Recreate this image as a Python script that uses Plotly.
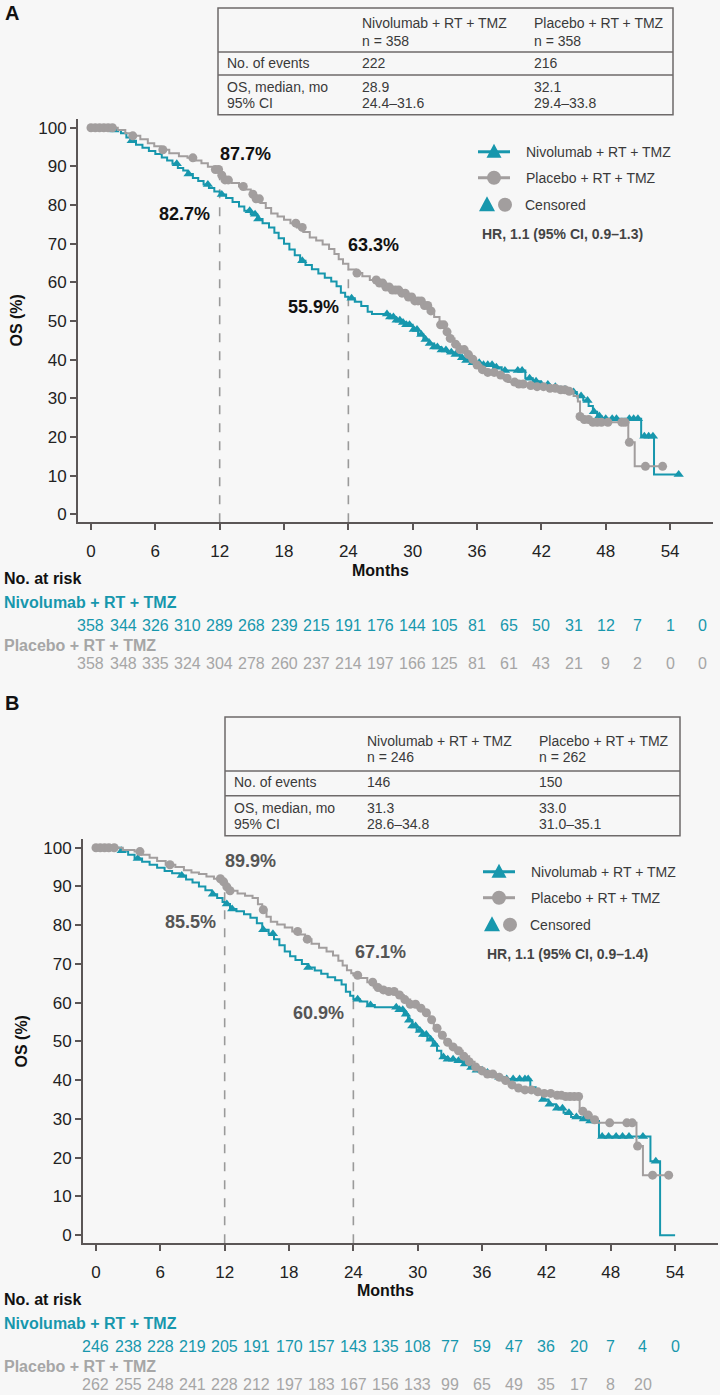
import numpy as np
import plotly.graph_objects as go

W, H = 720, 1395
BG = "#f7f7f7"
TEAL = "#1797ad"
GRAY = "#a29e9e"
GRAY_TXT = "#a6a6a6"
AXIS = "#5b5656"
FONT = "Liberation Sans, Arial, Helvetica, sans-serif"

# ---------------- data ----------------
month_ticks = [0, 6, 12, 18, 24, 30, 36, 42, 48, 54]
os_ticks = [0, 10, 20, 30, 40, 50, 60, 70, 80, 90, 100]
arms = ["Nivolumab + RT + TMZ", "Placebo + RT + TMZ"]

# Panel A: step times (months) and OS (%)
a_nivo_t = [0, 2.0, 2.8, 3.3, 3.7, 4.2, 4.8, 5.4, 6.0, 6.6, 7.1, 7.6, 8.1, 8.6, 9.0, 9.5, 10.0, 10.5,
            11.0, 11.5, 12.0, 12.6, 13.2, 13.8, 14.3, 14.9, 15.5, 16.0, 16.6, 17.1, 17.5, 18.0, 18.5,
            19.0, 19.5, 20.0, 20.6, 21.2, 21.8, 22.4, 22.9, 23.3, 23.7, 24.0, 24.6, 25.2, 25.8, 26.2,
            27.8, 28.4, 28.9, 29.4, 30.0, 30.5, 31.0, 31.5, 32.0, 32.6, 33.2, 33.8, 34.4, 35.0, 35.6,
            36.3, 37.5, 38.3, 40.5, 41.2, 41.9, 42.8, 43.8, 44.6, 45.3, 45.9, 46.4, 46.8, 47.2, 47.6,
            51.3, 52.5, 54.8]
a_nivo_s = [100, 99.4, 98.6, 97.5, 96.6, 95.6, 94.8, 94.0, 93.2, 92.3, 91.5, 90.7, 89.6, 88.9, 88.0,
            87.0, 86.2, 85.3, 84.4, 83.5, 82.7, 81.8, 80.8, 79.6, 78.5, 77.6, 76.4, 75.3, 74.2, 72.8,
            71.4, 70.0, 68.5, 67.0, 65.6, 64.5, 63.4, 62.3, 61.2, 60.2, 59.0, 57.3, 56.3, 55.9, 55.0,
            53.9, 52.4, 51.8, 51.0, 50.2, 49.6, 49.0, 47.8, 46.5, 45.2, 44.2, 43.3, 42.5, 41.9, 41.3,
            40.5, 39.8, 39.2, 38.7, 38.0, 37.2, 35.2, 34.4, 33.6, 33.0, 32.3, 31.6, 30.6, 29.4, 28.0,
            26.5, 25.4, 24.7, 20.2, 10.3, 10.3]
a_nivo_cens = [2.2, 3.8, 8.0, 9.1, 10.9, 12.2, 14.8, 15.3, 15.6, 19.7, 24.3, 27.6, 27.9, 28.2, 28.5,
               28.8, 29.1, 29.4, 29.7, 30.1, 30.4, 30.8, 31.2, 31.6, 32.0, 32.3, 32.7, 33.1, 33.6, 34.0,
               34.6, 35.0, 35.6, 36.2, 36.6, 37.0, 37.4, 37.8, 38.6, 39.8, 40.2, 40.9, 41.5, 42.0, 42.6,
               43.3, 44.2, 45.0, 45.7, 46.3, 46.9, 47.4, 48.0, 48.6, 49.0, 50.2, 50.6, 51.0, 51.6, 52.0,
               52.4, 54.8]

a_pla_t = [0, 2.5, 3.2, 3.9, 4.6, 5.3, 5.9, 6.5, 7.3, 8.2, 9.0, 9.6, 10.3, 10.9, 11.5, 12.0, 12.5, 13.1,
           13.8, 14.4, 14.9, 15.3, 15.8, 16.3, 16.8, 17.4, 18.0, 18.6, 19.2, 19.8, 20.4, 21.0, 21.6, 22.2,
           22.7, 23.1, 23.5, 24.0, 24.7, 25.3, 26.0, 26.7, 27.4, 28.1, 28.8, 29.5, 30.2, 30.9, 31.5, 32.0,
           32.5, 33.0, 33.4, 33.9, 34.4, 34.9, 35.4, 35.9, 36.4, 37.0, 37.7, 38.4, 38.9, 39.6, 40.6, 41.5,
           42.5, 43.5, 44.4, 45.0, 45.4, 45.6, 46.0, 46.6, 50.1, 50.7, 53.3]
a_pla_s = [100, 99.4, 98.6, 97.9, 97.0, 96.0, 95.2, 94.3, 93.4, 92.6, 92.2, 91.5, 90.8, 89.9, 89.2, 87.7,
           86.5, 85.7, 84.8, 84.0, 82.8, 81.6, 80.5, 79.2, 77.8, 77.0, 76.2, 75.3, 74.2, 73.0, 71.6, 70.8,
           69.8, 68.6, 67.3, 66.0, 64.8, 63.3, 62.4, 61.6, 60.6, 59.8, 58.8, 58.0, 57.2, 56.2, 55.2, 54.0,
           52.6, 51.0, 49.0, 47.2, 45.5, 44.0, 42.6, 41.3, 40.1, 38.6, 37.4, 36.7, 36.0, 35.2, 34.2, 33.7,
           33.3, 33.0, 32.6, 32.2, 31.8, 30.6, 29.2, 25.3, 24.5, 23.8, 18.6, 12.4, 12.4]
a_pla_cens = [0.0, 0.4, 0.8, 1.2, 1.6, 2.0, 3.9, 6.7, 9.5, 11.6, 11.9, 12.2, 12.5, 12.8, 14.2, 15.1, 15.4,
              15.7, 19.1, 19.7, 24.8, 26.6, 26.9, 27.2, 27.5, 27.8, 28.1, 28.4, 28.7, 29.0, 29.3, 29.6,
              29.9, 30.2, 30.5, 30.8, 31.1, 31.4, 31.7, 32.6, 32.9, 33.2, 33.5, 34.0, 34.4, 34.8, 35.2,
              35.6, 36.0, 36.5, 37.0, 37.6, 38.2, 38.8, 39.5, 39.9, 40.3, 41.0, 41.6, 42.2, 42.8, 43.3,
              43.8, 44.2, 44.6, 45.6, 46.0, 46.4, 46.8, 47.2, 47.6, 48.2, 49.5, 49.8, 50.2, 51.7, 53.3]

# Panel B
b_nivo_t = [0, 2.3, 3.0, 3.6, 4.3, 5.0, 5.7, 6.4, 7.1, 7.8, 8.4, 9.0, 9.6, 10.2, 10.8, 11.3, 11.8, 12.0,
            12.5, 13.1, 13.8, 14.4, 15.0, 15.5, 16.1, 16.6, 17.1, 17.6, 18.1, 18.6, 19.2, 19.8, 20.4, 21.0,
            21.6, 22.3, 22.9, 23.3, 23.7, 24.0, 24.6, 25.3, 26.0, 28.2, 28.7, 29.1, 29.5, 29.9, 30.4, 30.9,
            31.4, 31.8, 32.2, 32.8, 33.5, 34.2, 34.8, 35.5, 36.2, 36.9, 37.5, 38.2, 40.5, 41.0, 41.6, 42.2,
            42.9, 43.6, 44.3, 45.2, 46.0, 46.9, 51.7, 52.6, 54.0]
b_nivo_s = [100, 99.2, 98.2, 97.2, 96.4, 95.6, 94.8, 94.0, 93.4, 92.8, 91.8, 91.0, 90.0, 89.0, 88.0, 87.0,
            86.0, 85.5, 84.2, 83.6, 82.8, 81.9, 80.5, 78.8, 77.8, 76.4, 74.8, 73.2, 72.0, 71.0, 70.0, 69.1,
            68.3, 67.5, 66.6, 65.8, 64.7, 62.8, 61.8, 60.9, 60.3, 59.4, 58.8, 58.2, 57.0, 55.5, 54.0, 52.8,
            51.8, 50.6, 49.2, 47.6, 46.0, 45.4, 45.0, 44.2, 43.3, 42.6, 42.0, 41.3, 40.8, 40.3, 38.2, 36.6,
            35.0, 33.8, 32.8, 31.6, 30.5, 30.0, 29.5, 25.5, 19.1, 0.0, 0.0]
b_nivo_cens = [2.4, 3.9, 8.0, 10.9, 12.2, 12.7, 15.6, 16.5, 19.8, 24.4, 25.6, 28.0, 28.3, 28.6, 28.9,
               29.2, 29.5, 29.8, 30.2, 30.5, 30.8, 31.2, 31.6, 32.4, 32.8, 33.3, 33.8, 34.4, 35.0, 35.5,
               36.0, 36.5, 37.0, 37.6, 38.3, 38.9, 39.5, 40.0, 40.3, 41.7, 42.3, 43.0, 43.5, 44.1, 44.8,
               45.5, 46.1, 46.6, 47.2, 47.8, 48.5, 49.1, 49.7, 51.0, 52.2]

b_pla_t = [0, 2.5, 3.6, 4.3, 5.0, 5.7, 6.5, 7.4, 8.2, 8.9, 9.6, 10.3, 11.0, 11.8, 12.0, 12.5, 13.2, 13.9,
           14.6, 15.1, 15.5, 15.9, 16.3, 16.9, 17.6, 18.3, 18.9, 19.5, 20.1, 20.8, 21.5, 22.1, 22.6, 23.0,
           23.4, 23.8, 24.0, 24.6, 25.3, 25.9, 26.6, 27.3, 28.0, 28.7, 29.3, 30.0, 30.6, 31.1, 31.5, 32.0,
           32.5, 33.0, 33.6, 34.2, 34.8, 35.3, 35.9, 36.5, 37.2, 37.8, 38.5, 39.1, 39.9, 40.8, 41.8, 42.8,
           43.6, 45.1, 45.6, 46.2, 46.6, 50.4, 51.0, 53.4]
b_pla_s = [100, 99.4, 99.0, 98.2, 97.4, 96.6, 95.6, 95.0, 94.2, 93.6, 93.2, 92.6, 92.0, 91.2, 89.9, 88.9,
           88.2, 87.6, 87.0, 85.4, 84.0, 82.2, 80.9, 80.2, 79.4, 78.4, 77.6, 76.4, 75.2, 74.2, 73.2, 72.2,
           70.8, 69.6, 68.4, 67.6, 67.1, 66.4, 65.3, 63.9, 63.3, 62.9, 62.0, 60.8, 59.6, 58.6, 57.4, 55.6,
           53.4, 51.6, 49.8, 48.6, 47.6, 46.2, 44.8, 43.4, 42.4, 41.6, 40.8, 39.9, 38.8, 38.0, 37.5, 37.0,
           36.6, 36.1, 35.8, 32.0, 31.0, 29.8, 29.0, 23.0, 15.5, 15.5]
b_pla_cens = [0.0, 0.4, 0.8, 1.2, 1.7, 4.1, 6.9, 11.6, 11.9, 12.2, 12.5, 15.6, 18.8, 19.7, 24.4, 25.8,
              26.3, 26.8, 27.3, 27.8, 28.3, 28.8, 29.3, 29.8, 30.3, 30.8, 31.3, 31.8, 32.3, 32.8, 33.3,
              33.8, 34.3, 34.8, 35.4, 36.0, 36.5, 37.0, 37.6, 38.2, 38.8, 39.4, 40.0, 40.6, 41.2, 41.8,
              42.4, 43.0, 43.4, 43.8, 44.2, 44.6, 45.0, 45.4, 45.9, 46.5, 47.9, 49.5, 50.0, 50.5, 51.9, 53.4]

# Numbers at risk (every 3 months from 0)
a_risk_nivo = [358, 344, 326, 310, 289, 268, 239, 215, 191, 176, 144, 105, 81, 65, 50, 31, 12, 7, 1, 0]
a_risk_pla = [358, 348, 335, 324, 304, 278, 260, 237, 214, 197, 166, 125, 81, 61, 43, 21, 9, 2, 0, 0]
b_risk_nivo = [246, 238, 228, 219, 205, 191, 170, 157, 143, 135, 108, 77, 59, 47, 36, 20, 7, 4, 0]
b_risk_pla = ["262", "255", "248", "241", "228", "212", "197", "183", "167", "156", "133", "99", "65",
              "49", "35", "17", "8", "20"]
risk_step = 3

# Summary tables
a_n = [358, 358]
a_events = [222, 216]
a_median = ["28.9", "32.1"]
a_ci = ["24.4–31.6", "29.4–33.8"]
a_hr = "HR, 1.1 (95% CI, 0.9–1.3)"
b_n = [246, 262]
b_events = [146, 150]
b_median = ["31.3", "33.0"]
b_ci = ["28.6–34.8", "31.0–35.1"]
b_hr = "HR, 1.1 (95% CI, 0.9–1.4)"

landmarks = [12, 24]


# ---------------- helpers ----------------
def P(x):
    return x / W


def Q(y):
    return 1 - y / H


def step_at(ts, ss, t):
    i = int(np.searchsorted(np.asarray(ts), t, side="right")) - 1
    return ss[max(i, 0)]


fig = go.Figure()
annotations = []
shapes = []


def txt(x, y, s, size=14, color="#333333", bold=False, xanchor="left", angle=0):
    if bold:
        s = "<b>" + s + "</b>"
    annotations.append(dict(x=P(x), y=Q(y), xref="paper", yref="paper", text=s, showarrow=False,
                            xanchor=xanchor, yanchor="middle", textangle=angle,
                            font=dict(family=FONT, size=size, color=color)))


def tri_path(cx, cy, w, h):
    return "M {} {} L {} {} L {} {} Z".format(P(cx - w / 2), Q(cy + h / 2), P(cx + w / 2), Q(cy + h / 2),
                                             P(cx), Q(cy - h / 2))


def circ(cx, cy, r, color):
    shapes.append(dict(type="circle", xref="paper", yref="paper", x0=P(cx - r), x1=P(cx + r),
                       y0=Q(cy + r), y1=Q(cy - r), fillcolor=color, line=dict(width=0)))


def panel(xa, ya, nt, ns, nc, pt, ps, pc, risk_n, risk_p, n, ev, med, ci, hr, lay):
    ox = lay["ox"]
    # curves
    fig.add_trace(go.Scatter(x=nt, y=ns, mode="lines", line=dict(color=TEAL, width=2, shape="hv"),
                             xaxis=xa, yaxis=ya, hoverinfo="skip"))
    fig.add_trace(go.Scatter(x=nc, y=[step_at(nt, ns, t) for t in nc], mode="markers",
                             marker=dict(symbol="triangle-up", size=9, color=TEAL, line=dict(width=0)),
                             xaxis=xa, yaxis=ya, hoverinfo="skip"))
    fig.add_trace(go.Scatter(x=pt, y=ps, mode="lines", line=dict(color=GRAY, width=2, shape="hv"),
                             xaxis=xa, yaxis=ya, hoverinfo="skip"))
    fig.add_trace(go.Scatter(x=pc, y=[step_at(pt, ps, t) for t in pc], mode="markers",
                             marker=dict(symbol="circle", size=9, color=GRAY, line=dict(width=0)),
                             xaxis=xa, yaxis=ya, hoverinfo="skip"))
    # dashed landmark lines
    for m in landmarks:
        top = max(step_at(pt, ps, m), step_at(nt, ns, m))
        shapes.append(dict(type="line", xref=xa, yref=ya, x0=m, x1=m, y0=lay["ymin"], y1=top,
                           line=dict(color="#9a9a9a", width=1.6, dash="dash"), layer="below"))
    # landmark labels
    pcol = lay["pctcolor"]
    for (m, arm_t, arm_s, key) in [(12, pt, ps, "p12"), (12, nt, ns, "n12"), (24, pt, ps, "p24"), (24, nt, ns, "n24")]:
        v = step_at(arm_t, arm_s, m)
        x, y = lay[key]
        txt(x, y, "{:.1f}%".format(v), size=18, color=pcol, bold=True, xanchor="center")
    # table
    tx0, tx1, ty0, ty1, l1, l2 = lay["table"]
    h1, h2 = lay["hdr"]
    shapes.append(dict(type="rect", xref="paper", yref="paper", x0=P(tx0), x1=P(tx1), y0=Q(ty1), y1=Q(ty0),
                       line=dict(color="#6e6a6a", width=1.5)))
    for ly in (l1, l2):
        shapes.append(dict(type="line", xref="paper", yref="paper", x0=P(tx0), x1=P(tx1), y0=Q(ly), y1=Q(ly),
                           line=dict(color="#6e6a6a", width=1.5)))
    c1, c2, c3 = lay["cols"]
    TC = "#3a3a3a"
    txt(c2, h1, arms[0], color=TC)
    txt(c2, h2, "n = {}".format(n[0]), color=TC)
    txt(c3, h1, arms[1], color=TC)
    txt(c3, h2, "n = {}".format(n[1]), color=TC)
    txt(c1, l1 + 11, "No. of events", color=TC)
    txt(c2, l1 + 11, str(ev[0]), color=TC)
    txt(c3, l1 + 11, str(ev[1]), color=TC)
    txt(c1, l2 + 12, "OS, median, mo", color=TC)
    txt(c2, l2 + 12, med[0], color=TC)
    txt(c3, l2 + 12, med[1], color=TC)
    txt(c1, l2 + 28, "95% CI", color=TC)
    txt(c2, l2 + 28, ci[0], color=TC)
    txt(c3, l2 + 28, ci[1], color=TC)
    # legend
    lx0, lx1, ly = lay["leg"]
    lc = (lx0 + lx1) / 2
    shapes.append(dict(type="line", xref="paper", yref="paper", x0=P(lx0), x1=P(lx1), y0=Q(ly), y1=Q(ly),
                       line=dict(color=TEAL, width=3)))
    shapes.append(dict(type="path", xref="paper", yref="paper", path=tri_path(lc, ly - 1, 15, 14),
                       fillcolor=TEAL, line=dict(width=0)))
    shapes.append(dict(type="line", xref="paper", yref="paper", x0=P(lx0), x1=P(lx1), y0=Q(ly + 26),
                       y1=Q(ly + 26), line=dict(color=GRAY, width=3)))
    circ(lc, ly + 26, 7, GRAY)
    shapes.append(dict(type="path", xref="paper", yref="paper", path=tri_path(lx0 + 9, ly + 52, 16, 15),
                       fillcolor=TEAL, line=dict(width=0)))
    circ(lx0 + 27, ly + 53, 7, GRAY)
    tx = lx1 + 14
    txt(tx, ly, arms[0], color="#3a3a3a")
    txt(tx, ly + 26, arms[1], color="#3a3a3a")
    txt(tx - 1, ly + 53, "Censored", color="#3a3a3a")
    txt(lx0 + 2, ly + 82, hr, size=14, color="#444444", bold=True)
    # axis titles & at-risk
    txt(lay["ostitle"][0], lay["ostitle"][1], "OS (%)", size=16, color="#111111", bold=True,
        xanchor="center", angle=-90)
    txt(380 + ox, lay["months_y"], "Months", size=16, color="#111111", bold=True, xanchor="center")
    ry = lay["risk_y"]
    txt(2, ry, "No. at risk", size=16, color="#111111", bold=True)
    txt(2, ry + 24, arms[0], size=16, color=TEAL, bold=True)
    txt(2, ry + 67, arms[1], size=16, color=GRAY_TXT, bold=True)
    for i, v in enumerate(risk_n):
        annotations.append(dict(x=i * risk_step, y=Q(ry + 47), xref=xa, yref="paper", text=str(v),
                                showarrow=False, xanchor="center", yanchor="middle",
                                font=dict(family=FONT, size=16, color=TEAL)))
    for i, v in enumerate(risk_p):
        annotations.append(dict(x=i * risk_step, y=Q(ry + 85), xref=xa, yref="paper", text=str(v),
                                showarrow=False, xanchor="center", yanchor="middle",
                                font=dict(family=FONT, size=16, color=GRAY_TXT)))
    txt(3, lay["letter_y"], lay["letter"], size=20, color="#111111", bold=True)


layA = dict(ox=0, ymin=-2.07, pctcolor="#111111",
            p12=(245, 154), n12=(185, 214), p24=(373, 245), n24=(313, 307),
            table=(218, 673, 8, 115, 52, 75), hdr=(23, 41), cols=(225, 360, 532),
            leg=(478, 510, 152), ostitle=(17, 321), months_y=571, risk_y=579,
            letter="A", letter_y=13)
layB = dict(ox=5, ymin=-2.06, pctcolor="#555555",
            p12=(250, 862), n12=(190, 923), p24=(380, 953), n24=(318, 1014),
            table=(225, 680, 718, 837, 772, 797), hdr=(742, 758), cols=(232, 365, 537),
            leg=(483, 515, 873), ostitle=(22, 1043), months_y=1292, risk_y=1301,
            letter="B", letter_y=704)

panel("x", "y", a_nivo_t, a_nivo_s, a_nivo_cens, a_pla_t, a_pla_s, a_pla_cens,
      a_risk_nivo, a_risk_pla, a_n, a_events, a_median, a_ci, a_hr, layA)
panel("x2", "y2", b_nivo_t, b_nivo_s, b_nivo_cens, b_pla_t, b_pla_s, b_pla_cens,
      b_risk_nivo, b_risk_pla, b_n, b_events, b_median, b_ci, b_hr, layB)

axis_common = dict(showline=True, linecolor=AXIS, linewidth=2, ticks="outside", ticklen=6, tickwidth=2,
                   tickcolor=AXIS, showgrid=False, zeroline=False,
                   tickfont=dict(family=FONT, size=17, color="#222222"))

fig.update_layout(
    width=W, height=H, autosize=False, showlegend=False,
    margin=dict(l=0, r=0, t=0, b=0),
    paper_bgcolor=BG, plot_bgcolor=BG,
    xaxis=dict(domain=[P(78), P(713)], range=[-1.21, 58.0], tickvals=month_ticks, anchor="y",
               ticklabelstandoff=6, **axis_common),
    yaxis=dict(domain=[Q(523), Q(119)], range=[-2.07, 102.3], tickvals=os_ticks, anchor="x",
               **axis_common),
    xaxis2=dict(domain=[P(83), P(718)], range=[-1.21, 58.0], tickvals=month_ticks, anchor="y2",
                ticklabelstandoff=6, **axis_common),
    yaxis2=dict(domain=[Q(1245), Q(840)], range=[-2.06, 102.3], tickvals=os_ticks, anchor="x2",
                **axis_common),
    annotations=annotations,
    shapes=shapes,
)

fig.write_html("out.html", config={"displayModeBar": False},
               post_script="document.body.style.margin='0';document.body.style.background='" + BG + "';")
